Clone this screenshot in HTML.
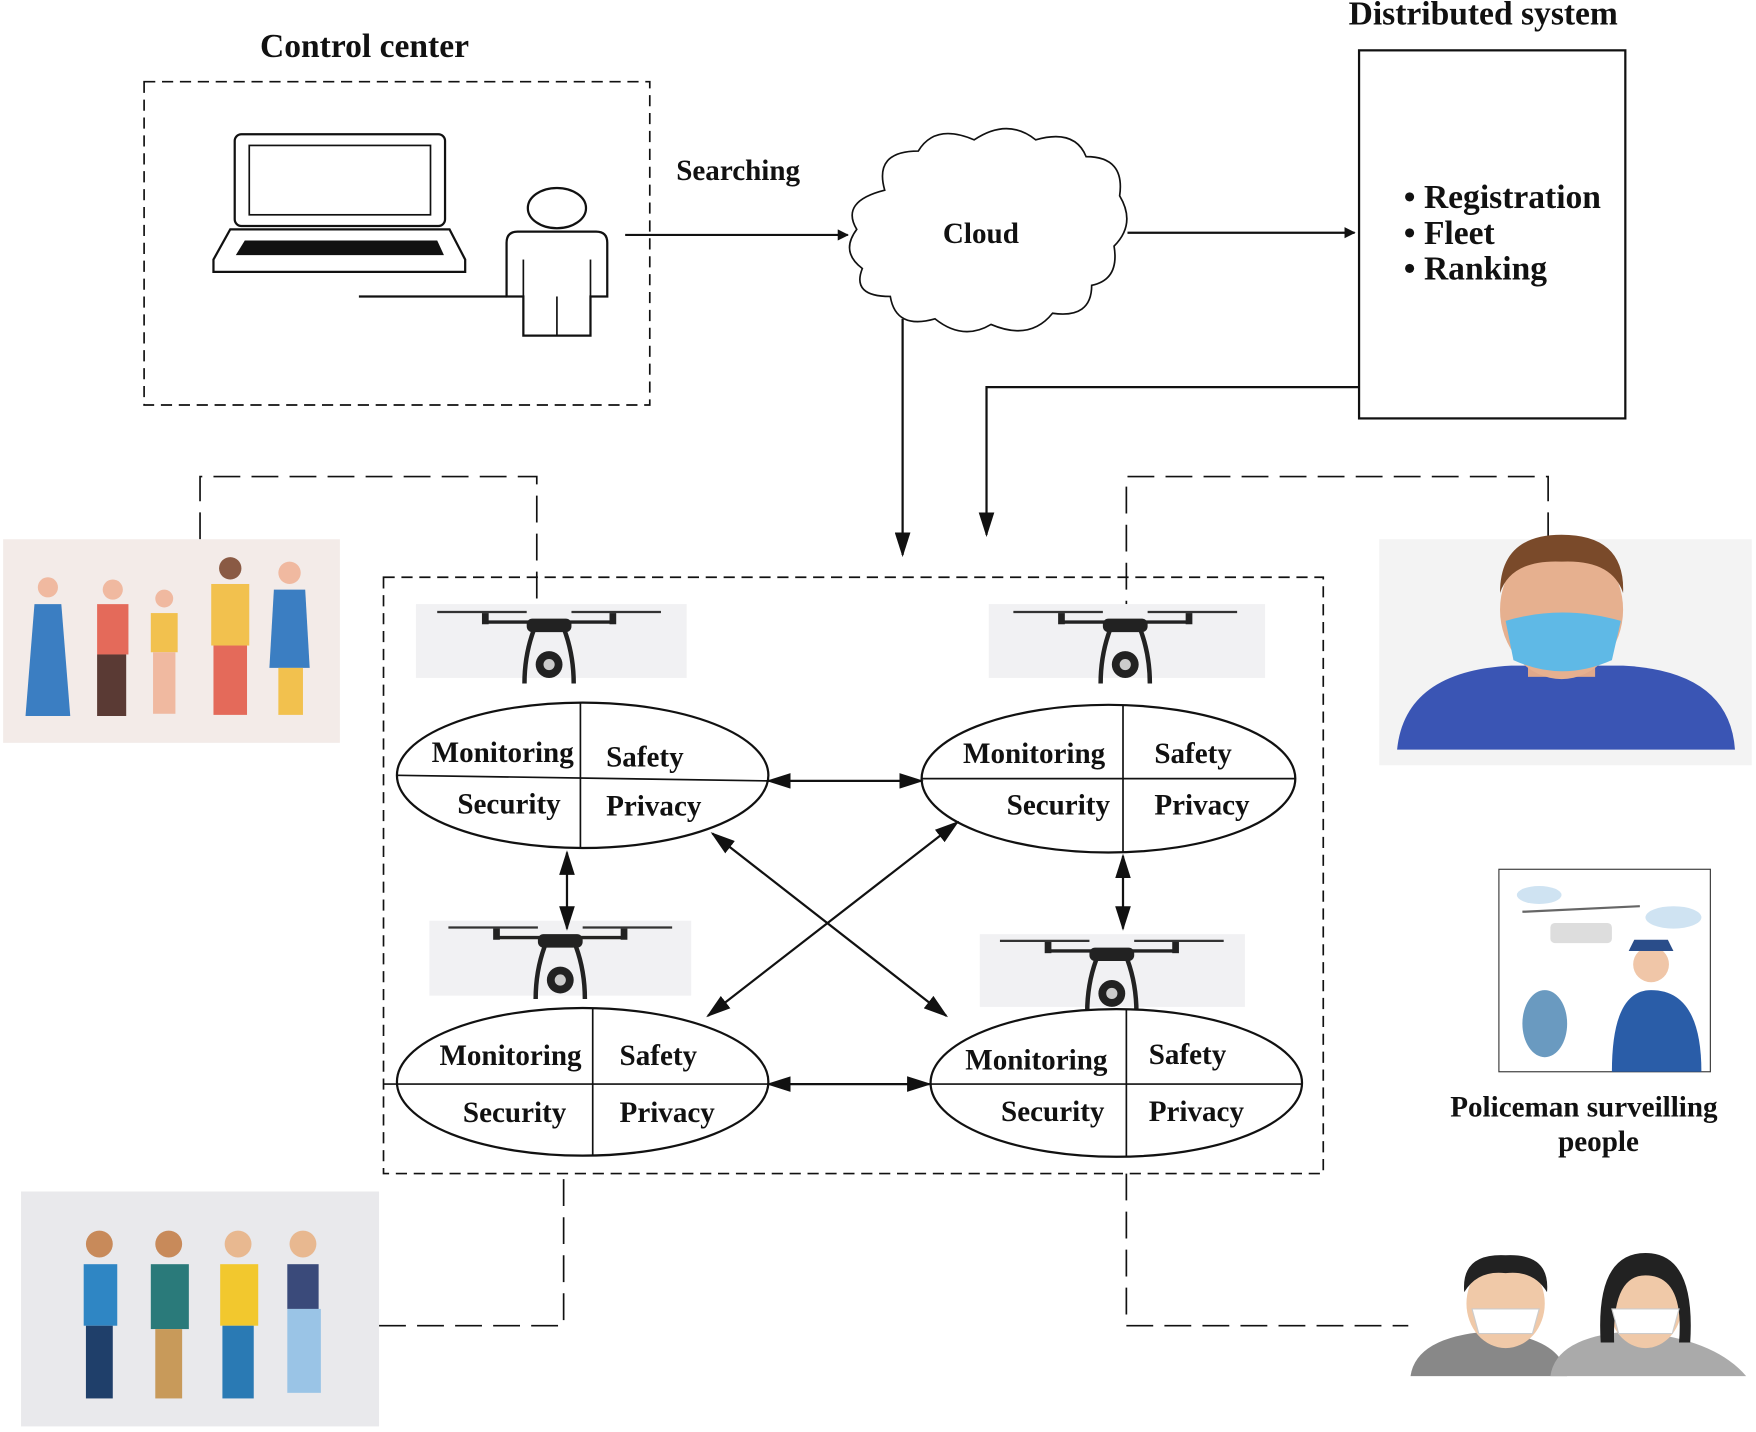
<!DOCTYPE html>
<html><head><meta charset="utf-8"><style>
html,body{margin:0;padding:0;background:#fff;}
svg{display:block;}
text{font-family:"Liberation Serif",serif;font-weight:bold;fill:#111;}
</style></head><body>
<svg width="1756" height="1432" viewBox="0 0 1568 1280" xmlns="http://www.w3.org/2000/svg">
<defs>
<marker id="ah" markerWidth="10" markerHeight="10" refX="9" refY="5" orient="auto-start-reverse" markerUnits="userSpaceOnUse" viewBox="0 0 10 10">
<path d="M0,0 L10,5 L0,10 z" fill="#111"/></marker>
<marker id="ab" markerWidth="22" markerHeight="14" refX="20" refY="7" orient="auto-start-reverse" markerUnits="userSpaceOnUse">
<path d="M0,0 L22,7 L0,14 z" fill="#111"/></marker>
<g id="drone">
<rect x="-20" y="-3" width="40" height="12" rx="5" fill="#222"/>
<line x1="-55" y1="0" x2="55" y2="0" stroke="#222" stroke-width="3"/>
<rect x="-60" y="-8" width="6" height="10" fill="#222"/><rect x="54" y="-8" width="6" height="10" fill="#222"/>
<line x1="-100" y1="-9" x2="-20" y2="-9" stroke="#333" stroke-width="2"/>
<line x1="20" y1="-9" x2="100" y2="-9" stroke="#333" stroke-width="2"/>
<path d="M-14,8 Q-22,30 -22,55" stroke="#222" stroke-width="4" fill="none"/>
<path d="M14,8 Q22,30 22,55" stroke="#222" stroke-width="4" fill="none"/>
<circle cx="0" cy="38" r="12" fill="#222"/><circle cx="0" cy="38" r="5" fill="#ccc"/>
</g>
</defs>

<text x="325" y="51" font-size="30" text-anchor="middle">Control center</text>
<rect x="128" y="73" width="452" height="289" fill="none" stroke="#111" stroke-width="1.5" stroke-dasharray="10,6"/>
<rect x="209" y="120" width="188" height="82" rx="6" fill="#fff" stroke="#111" stroke-width="2"/>
<rect x="222" y="130" width="162" height="62" fill="none" stroke="#111" stroke-width="1.5"/>
<path d="M205,205 L401,205 L415,232 L415,243 L190,243 L190,232 Z" fill="#fff" stroke="#111" stroke-width="2"/>
<path d="M218,215 L390,215 L396,228 L210,228 Z" fill="#111"/>
<ellipse cx="497" cy="186" rx="26" ry="18" fill="#fff" stroke="#111" stroke-width="2"/>
<path d="M462,207 L532,207 Q542,207 542,217 L542,265 L527,265 L527,300 L467,300 L467,265 L452,265 L452,217 Q452,207 462,207 Z" fill="#fff" stroke="#111" stroke-width="2"/>
<line x1="497" y1="265" x2="497" y2="300" stroke="#111" stroke-width="1.5"/>
<line x1="467" y1="232" x2="467" y2="265" stroke="#111" stroke-width="1.5"/>
<line x1="527" y1="232" x2="527" y2="265" stroke="#111" stroke-width="1.5"/>
<line x1="320" y1="265" x2="452" y2="265" stroke="#111" stroke-width="2"/>

<text x="659" y="161" font-size="26" text-anchor="middle">Searching</text>
<line x1="558" y1="210" x2="757" y2="210" stroke="#111" stroke-width="2" marker-end="url(#ah)"/>

<path d="M790,170 Q780,135 820,135 Q835,110 870,125 Q900,105 925,125 Q960,115 970,140 Q1005,140 1000,175 Q1015,200 995,220 Q1000,250 975,255 Q975,285 940,280 Q920,305 885,290 Q860,305 835,285 Q800,295 795,265 Q760,265 770,240 Q750,225 765,205 Q750,180 790,170 Z" fill="#fff" stroke="#111" stroke-width="1.5"/>
<text x="876" y="217" font-size="26" text-anchor="middle">Cloud</text>
<line x1="1007" y1="208" x2="1210" y2="208" stroke="#111" stroke-width="2" marker-end="url(#ah)"/>

<text x="1325" y="22" font-size="30" text-anchor="middle">Distributed system</text>
<rect x="1214" y="45" width="238" height="329" fill="#fff" stroke="#111" stroke-width="2"/>
<text x="1254" y="186" font-size="30">• Registration</text>
<text x="1254" y="218" font-size="30">• Fleet</text>
<text x="1254" y="250" font-size="30">• Ranking</text>

<polyline points="1214,346 881,346 881,478" fill="none" stroke="#111" stroke-width="2" marker-end="url(#ab)"/>
<line x1="806" y1="285" x2="806" y2="496" stroke="#111" stroke-width="2" marker-end="url(#ab)"/>

<rect x="342" y="516" width="840" height="533" fill="none" stroke="#111" stroke-width="1.5" stroke-dasharray="10,6"/>

<g fill="none" stroke="#111" stroke-width="1.5" stroke-dasharray="24,10">
<polyline points="178,482 178,426 479,426 479,540"/>
<polyline points="1383,482 1383,426 1006,426 1006,540"/>
<polyline points="338,1185 503,1185 503,1049"/>
<polyline points="1006,1049 1006,1185 1258,1185"/>
</g>

<rect x="371" y="540" width="242" height="66" fill="#f1f1f3"/><use href="#drone" x="490" y="556"/>
<rect x="883" y="540" width="247" height="66" fill="#f1f1f3"/><use href="#drone" x="1005" y="556"/>
<rect x="383" y="823" width="234" height="67" fill="#f1f1f3"/><use href="#drone" x="500" y="838"/>
<rect x="875" y="835" width="237" height="65" fill="#f1f1f3"/><use href="#drone" x="993" y="850"/>

<g stroke="#111" stroke-width="2" fill="#fff">
<ellipse cx="520" cy="693" rx="166" ry="65"/>
<ellipse cx="990" cy="696" rx="167" ry="66"/>
<ellipse cx="520" cy="967" rx="166" ry="66"/>
<ellipse cx="997" cy="968" rx="166" ry="66"/>
</g>
<g stroke="#111" stroke-width="1.5">
<line x1="354" y1="693" x2="686" y2="698"/><line x1="518" y1="628" x2="518" y2="758"/>
<line x1="823" y1="696" x2="1157" y2="696"/><line x1="1003" y1="630" x2="1003" y2="762"/>
<line x1="342" y1="969" x2="686" y2="969"/><line x1="529" y1="901" x2="529" y2="1033"/>
<line x1="831" y1="969" x2="1163" y2="969"/><line x1="1006" y1="902" x2="1006" y2="1034"/>
</g>
<g font-size="26">
<text x="385" y="681">Monitoring</text><text x="541" y="685">Safety</text>
<text x="408" y="727">Security</text><text x="541" y="729">Privacy</text>
<text x="860" y="682">Monitoring</text><text x="1031" y="682">Safety</text>
<text x="899" y="728">Security</text><text x="1031" y="728">Privacy</text>
<text x="392" y="952">Monitoring</text><text x="553" y="952">Safety</text>
<text x="413" y="1003">Security</text><text x="553" y="1003">Privacy</text>
<text x="862" y="956">Monitoring</text><text x="1026" y="951">Safety</text>
<text x="894" y="1002">Security</text><text x="1026" y="1002">Privacy</text>
</g>

<g stroke="#111" stroke-width="2" fill="none">
<line x1="686" y1="698" x2="823" y2="698" marker-start="url(#ab)" marker-end="url(#ab)"/>
<line x1="506" y1="762" x2="506" y2="830" marker-start="url(#ab)" marker-end="url(#ab)"/>
<line x1="1003" y1="765" x2="1003" y2="830" marker-start="url(#ab)" marker-end="url(#ab)"/>
<line x1="686" y1="969" x2="830" y2="969" marker-start="url(#ab)" marker-end="url(#ab)"/>
<line x1="636" y1="745" x2="845" y2="908" marker-start="url(#ab)" marker-end="url(#ab)"/>
<line x1="855" y1="735" x2="632" y2="908" marker-start="url(#ab)" marker-end="url(#ab)"/>
</g>

<rect x="2" y="482" width="301" height="182" fill="#f3ebe8"/>
<g>
<circle cx="42" cy="525" r="9" fill="#f0b9a0"/><path d="M30,540 h24 l8,100 h-40 z" fill="#3b7ec2"/>
<circle cx="100" cy="527" r="9" fill="#f0b9a0"/><rect x="86" y="540" width="28" height="45" fill="#e46a5a"/><rect x="86" y="585" width="26" height="55" fill="#5a3a34"/>
<circle cx="146" cy="535" r="8" fill="#f0b9a0"/><rect x="134" y="548" width="24" height="35" fill="#f2c14e"/><rect x="136" y="583" width="20" height="55" fill="#f0b9a0"/>
<circle cx="205" cy="508" r="10" fill="#8a5a44"/><rect x="188" y="522" width="34" height="55" fill="#f2c14e"/><rect x="190" y="577" width="30" height="62" fill="#e46a5a"/>
<circle cx="258" cy="512" r="10" fill="#f0b9a0"/><path d="M244,527 h28 l4,70 h-36 z" fill="#3b7ec2"/><rect x="248" y="597" width="22" height="42" fill="#f2c14e"/>
</g>
<rect x="1232" y="482" width="333" height="202" fill="#f3f3f3"/>
<path d="M1248,670 Q1255,600 1350,595 L1450,595 Q1545,600 1550,670 Z" fill="#3a55b4"/>
<rect x="1365" y="570" width="60" height="35" fill="#e0a88a"/>
<ellipse cx="1395" cy="545" rx="55" ry="62" fill="#e6b08f"/>
<path d="M1340,530 Q1340,478 1395,478 Q1452,478 1450,530 Q1440,500 1395,502 Q1350,500 1340,530 Z" fill="#7a4a2a"/>
<path d="M1345,555 Q1395,540 1448,555 L1440,590 Q1395,610 1352,590 Z" fill="#5fb9e6"/>
<rect x="1339" y="777" width="189" height="181" fill="#fff" stroke="#333" stroke-width="1"/>
<ellipse cx="1375" cy="800" rx="20" ry="8" fill="#cfe3f2"/><ellipse cx="1495" cy="820" rx="25" ry="10" fill="#cfe3f2"/>
<rect x="1385" y="825" width="55" height="18" rx="4" fill="#ddd"/><line x1="1360" y1="815" x2="1465" y2="810" stroke="#666" stroke-width="2"/>
<ellipse cx="1380" cy="915" rx="20" ry="30" fill="#6a9ac0"/>
<circle cx="1475" cy="862" r="16" fill="#f0c6a8"/><path d="M1455,850 h40 l-5,-10 h-30 z" fill="#2a4d8a"/>
<path d="M1440,958 Q1440,885 1475,885 Q1520,885 1520,958 Z" fill="#2a5da8"/>
<text x="1415" y="998" font-size="26" text-anchor="middle">Policeman surveilling</text>
<text x="1428" y="1029" font-size="26" text-anchor="middle">people</text>
<rect x="18" y="1065" width="320" height="210" fill="#e9e9ec"/>
<g>
<circle cx="88" cy="1112" r="12" fill="#c88a5a"/><rect x="74" y="1130" width="30" height="55" fill="#2f86c4"/><rect x="76" y="1185" width="24" height="65" fill="#1f3f6a"/>
<circle cx="150" cy="1112" r="12" fill="#c88a5a"/><rect x="134" y="1130" width="34" height="58" fill="#2a7a7a"/><rect x="138" y="1188" width="24" height="62" fill="#c89a5a"/>
<circle cx="212" cy="1112" r="12" fill="#e8b890"/><rect x="196" y="1130" width="34" height="55" fill="#f2c82e"/><rect x="198" y="1185" width="28" height="65" fill="#2a7ab4"/>
<circle cx="270" cy="1112" r="12" fill="#e8b890"/><rect x="256" y="1130" width="28" height="40" fill="#3a4a7a"/><rect x="256" y="1170" width="30" height="75" fill="#9ac4e6"/>
</g>
<path d="M1260,1230 Q1265,1195 1330,1190 Q1395,1195 1400,1230 Z" fill="#888"/>
<ellipse cx="1345" cy="1165" rx="35" ry="40" fill="#f0c9a8"/>
<path d="M1308,1155 Q1305,1120 1345,1122 Q1385,1120 1382,1155 Q1370,1135 1345,1138 Q1320,1135 1308,1155 Z" fill="#222"/>
<path d="M1315,1170 h60 l-6,22 h-48 z" fill="#fff" stroke="#ccc"/>
<path d="M1385,1230 Q1390,1195 1455,1190 Q1530,1195 1560,1230 Z" fill="#aaa"/>
<ellipse cx="1470" cy="1165" rx="33" ry="40" fill="#f0c9a8"/>
<path d="M1430,1200 Q1425,1120 1470,1120 Q1515,1120 1510,1200 L1500,1200 Q1505,1140 1470,1140 Q1440,1140 1442,1200 Z" fill="#222"/>
<path d="M1440,1170 h60 l-6,22 h-48 z" fill="#fff" stroke="#ccc"/>
</svg>
</body></html>
